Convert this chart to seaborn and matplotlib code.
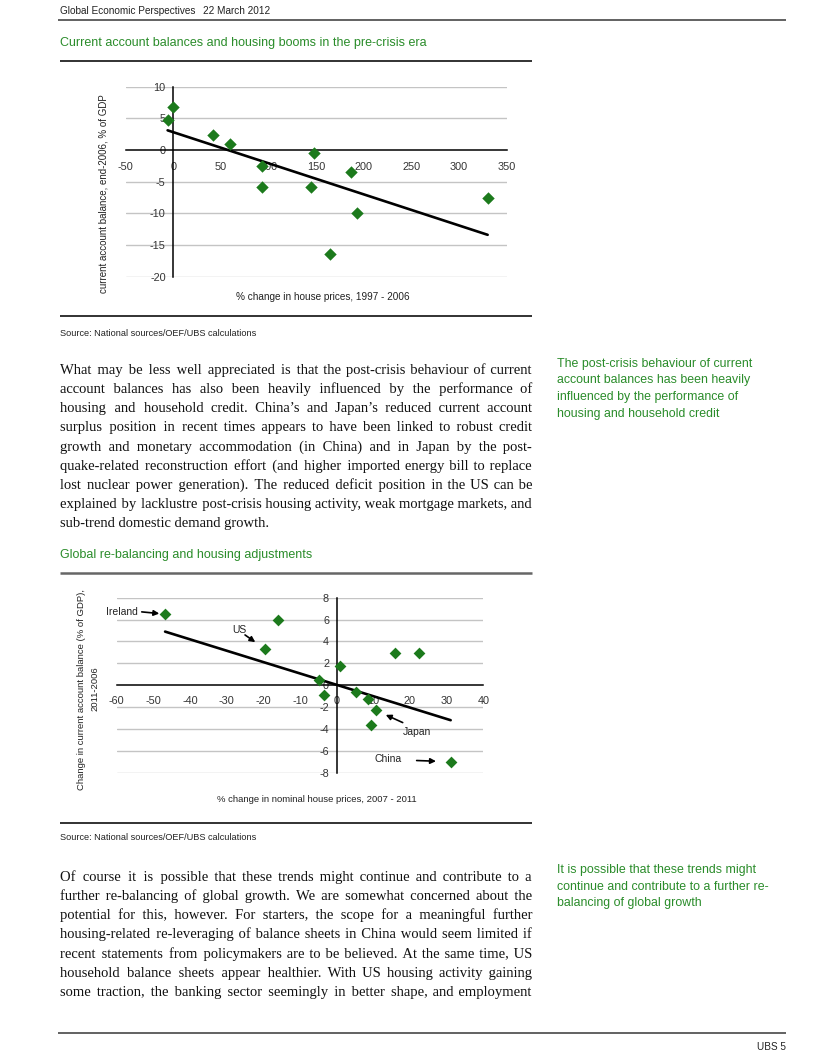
import matplotlib
matplotlib.use('Agg')
import matplotlib.pyplot as plt
import seaborn as sns

# ---- data ----
# chart 1: pre-crisis house prices vs current account
pre_price = [-6, 0, 42, 60, 93, 93, 148, 145, 187, 165, 193, 330]
pre_ca = [4.7, 6.8, 2.4, 0.9, -2.6, -5.8, -0.5, -5.8, -3.5, -16.4, -10.0, -7.6]

# chart 2: post-crisis adjustments
post_price = [-46.8, -16, -19.5, 0.9, 15.9, 22.5, -4.9, -3.5, 5.3, 8.5, 10.7, 9.5, 31.1]
post_ca = [6.5, 6.0, 3.3, 1.8, 2.9, 2.9, 0.5, -0.9, -0.6, -1.25, -2.3, -3.6, -7.0]
post_names = ['Ireland', '', 'US', '', '', '', '', '', '', '', 'Japan', '', 'China']
trend_price = [-46.8, 31.1]
trend_ca = [4.9, -3.2]

x1_ticks = [-50, 0, 50, 100, 150, 200, 250, 300, 350]
y1_ticks = [-20, -15, -10, -5, 0, 5, 10]
x2_ticks = [-60, -50, -40, -30, -20, -10, 0, 10, 20, 30, 40]
y2_ticks = [-8, -6, -4, -2, 0, 2, 4, 6, 8]

para1 = [
    "What may be less well appreciated is that the post-crisis behaviour of current",
    "account balances has also been heavily influenced by the performance of",
    "housing and household credit. China\u2019s and Japan\u2019s reduced current account",
    "surplus position in recent times appears to have been linked to robust credit",
    "growth and monetary accommodation (in China) and in Japan by the post-",
    "quake-related reconstruction effort (and higher imported energy bill to replace",
    "lost nuclear power generation). The reduced deficit position in the US can be",
    "explained by lacklustre post-crisis housing activity, weak mortgage markets, and",
    "sub-trend domestic demand growth.",
]
para2 = [
    "Of course it is possible that these trends might continue and contribute to a",
    "further re-balancing of global growth. We are somewhat concerned about the",
    "potential for this, however. For starters, the scope for a meaningful further",
    "housing-related re-leveraging of balance sheets in China would seem limited if",
    "recent statements from policymakers are to be believed. At the same time, US",
    "household balance sheets appear healthier. With US housing activity gaining",
    "some traction, the banking sector seemingly in better shape, and employment",
]
side1 = ["The post-crisis behaviour of current", "account balances has been heavily",
         "influenced by the performance of", "housing and household credit"]
side2 = ["It is possible that these trends might", "continue and contribute to a further re-",
         "balancing of global growth"]

sns.set_style('white')
SANS = ['Liberation Sans Narrow', 'Liberation Sans', 'DejaVu Sans']
SERIF = ['Liberation Serif', 'DejaVu Serif']
plt.rcParams['font.family'] = SANS
plt.rcParams['axes.unicode_minus'] = False

GREEN_TXT = '#2a8c2a'
GREEN_PT = '#1c7a1c'
GRID = '#c4c4c4'
INK = '#222222'
HAIR = '\u200a'

W, H = 826, 1057
fig = plt.figure(figsize=(W / 100, H / 100), dpi=100)
fig.patch.set_facecolor('white')

# page layer in pixel coordinates
page = fig.add_axes([0, 0, 1, 1])
page.set_xlim(0, W)
page.set_ylim(H, 0)
page.axis('off')
rend = fig.canvas.get_renderer()


def hline(y, x0, x1, color='#333333', lw=1.1):
    page.plot([x0, x1], [y, y], color=color, lw=lw, solid_capstyle='butt')


def text_width(s, size):
    t = page.text(0, 0, s, family=SERIF, fontsize=size)
    w = t.get_window_extent(rend).width
    t.remove()
    return w


def justify(lines, x0, x1, y0, step, ragged_last, size):
    # pad the word gaps with hair spaces so each line is one text object
    hair = (text_width('a' + HAIR * 20 + 'a', size) - text_width('aa', size)) / 20
    for i, line in enumerate(lines):
        words = line.split()
        out = line
        if not (ragged_last and i == len(lines) - 1) and len(words) > 1 and hair > 0:
            extra = (x1 - x0) - text_width(line, size)
            n_gap = len(words) - 1
            total = max(0, int(round(extra / hair)))
            out = words[0]
            for j, w in enumerate(words[1:]):
                k = total // n_gap + (1 if j < total % n_gap else 0)
                out += ' ' + HAIR * k + w
        page.text(x0, y0 + i * step, out, va='center', ha='left', family=SERIF,
                  fontsize=size, color='#111111')


# header / footer
page.text(60, 11, 'Global Economic Perspectives', fontsize=7.2, color=INK, va='center')
page.text(203, 11, '22 March 2012', fontsize=7.2, color=INK, va='center')
hline(20, 58, 786, color='#555555', lw=1.3)
hline(1033, 58, 786, color='#555555', lw=1.3)
page.text(786, 1047, 'UBS 5', fontsize=7.2, color=INK, va='center', ha='right')

# chart titles and rules
page.text(60, 43, 'Current account balances and housing booms in the pre-crisis era',
          fontsize=9, color=GREEN_TXT, va='center')
hline(61, 60, 532, color='#222222', lw=1.3)
hline(316, 60, 532, color='#222222', lw=1.3)
page.text(60, 333, 'Source: National sources/OEF/UBS calculations', fontsize=6.6,
          color=INK, va='center')

page.text(60, 555, 'Global re-balancing and housing adjustments',
          fontsize=9, color=GREEN_TXT, va='center')
hline(573, 60, 532, color='#666666', lw=1.8)
hline(823, 60, 532, color='#222222', lw=1.3)
page.text(60, 838, 'Source: National sources/OEF/UBS calculations', fontsize=6.6,
          color=INK, va='center')

# body text: size chosen so the widest line just fits the column
base = 11.5
widest = max(text_width(s, base) for s in para1[:-1] + para2)
body_size = base * 473 / widest
justify(para1, 60, 532, 370, 19.2, True, body_size)
justify(para2, 60, 532, 877, 19.2, False, body_size)

for i, s in enumerate(side1):
    page.text(557, 364 + i * 16.5, s, fontsize=8.9, color=GREEN_TXT, va='center')
for i, s in enumerate(side2):
    page.text(557, 870 + i * 16.7, s, fontsize=8.9, color=GREEN_TXT, va='center')


def style_axes(ax, xlim, ylim, xt, yt, pad_x):
    ax.set_facecolor('none')
    ax.set_xlim(*xlim)
    ax.set_ylim(*ylim)
    ax.set_xticks(xt)
    ax.set_yticks(yt)
    for v in yt:
        if v != 0:
            ax.axhline(v, color=GRID, lw=1, zorder=0)
    ax.spines['top'].set_visible(False)
    ax.spines['right'].set_visible(False)
    ax.spines['left'].set_position(('data', 0))
    ax.spines['bottom'].set_position(('data', 0))
    for sp in ('left', 'bottom'):
        ax.spines[sp].set_color('black')
        ax.spines[sp].set_linewidth(1.1)
    ax.tick_params(axis='both', direction='out', length=3.5, width=1, color='black',
                   labelsize=7.8, labelcolor='#333333')
    ax.tick_params(axis='x', pad=pad_x)
    ax.tick_params(axis='y', pad=2)
    ax.set_xlabel('')
    ax.set_ylabel('')


# ---- chart 1 ----
ax1 = fig.add_axes([125.7 / W, 1 - 276.7 / H, 381 / W, 190 / H])
sns.scatterplot(x=pre_price, y=pre_ca, marker='D', s=40, color=GREEN_PT,
                edgecolor=GREEN_PT, linewidth=0, ax=ax1, zorder=3)
sns.regplot(x=pre_price, y=pre_ca, scatter=False, ci=None, color='black',
            line_kws={'lw': 1.9}, ax=ax1)
style_axes(ax1, (-50, 350), (-20, 10), x1_ticks, y1_ticks, 5)
page.text(103, 194, 'current account balance, end-2006, % of GDP', rotation=90,
          fontsize=7, color=INK, ha='center', va='center')
page.text(323, 297, '% change in house prices, 1997 - 2006', fontsize=7.2, color=INK,
          ha='center', va='center')

# ---- chart 2 ----
ax2 = fig.add_axes([116.7 / W, 1 - 772.7 / H, 366.6 / W, 175 / H])
sns.scatterplot(x=post_price, y=post_ca, marker='D', s=36, color=GREEN_PT,
                edgecolor=GREEN_PT, linewidth=0, ax=ax2, zorder=3)
sns.lineplot(x=trend_price, y=trend_ca, color='black', lw=1.9, ax=ax2)
style_axes(ax2, (-60, 40), (-8, 8), x2_ticks, y2_ticks, 4.5)
page.text(88, 689, 'Change in current account balance (% of GDP),\n2011-2006', rotation=90,
          fontsize=6.8, color=INK, ha='center', va='center', multialignment='center',
          linespacing=1.6)
page.text(317, 800, '% change in nominal house prices, 2007 - 2011', fontsize=6.8,
          color=INK, ha='center', va='center')

# labels: text offset, arrow start offset (points from marker), arrow end gap
label_style = {
    'Ireland': ((-19.3, 1.4), 'right', (-16.8, 1.6), 4.2),
    'US': ((-18.9, 13.8), 'center', (-14.5, 10.2), 8.7),
    'Japan': ((29.4, -15.3), 'center', (19.3, -8.8), 7.8),
    'China': ((-45.1, 2.1), 'center', (-24.5, 0.9), 10.6),
}
for px_, py_, name in zip(post_price, post_ca, post_names):
    if not name:
        continue
    toff, ha, aoff, gap = label_style[name]
    ax2.annotate(name, xy=(px_, py_), xytext=toff, textcoords='offset points',
                 ha=ha, va='center', fontsize=7.5, color=INK)
    ax2.annotate('', xy=(px_, py_), xytext=aoff, textcoords='offset points',
                 arrowprops=dict(arrowstyle='-|>', color='black', lw=1.2,
                                 mutation_scale=8, shrinkA=0, shrinkB=gap))

fig.savefig('out.png', dpi=100, facecolor='white')
